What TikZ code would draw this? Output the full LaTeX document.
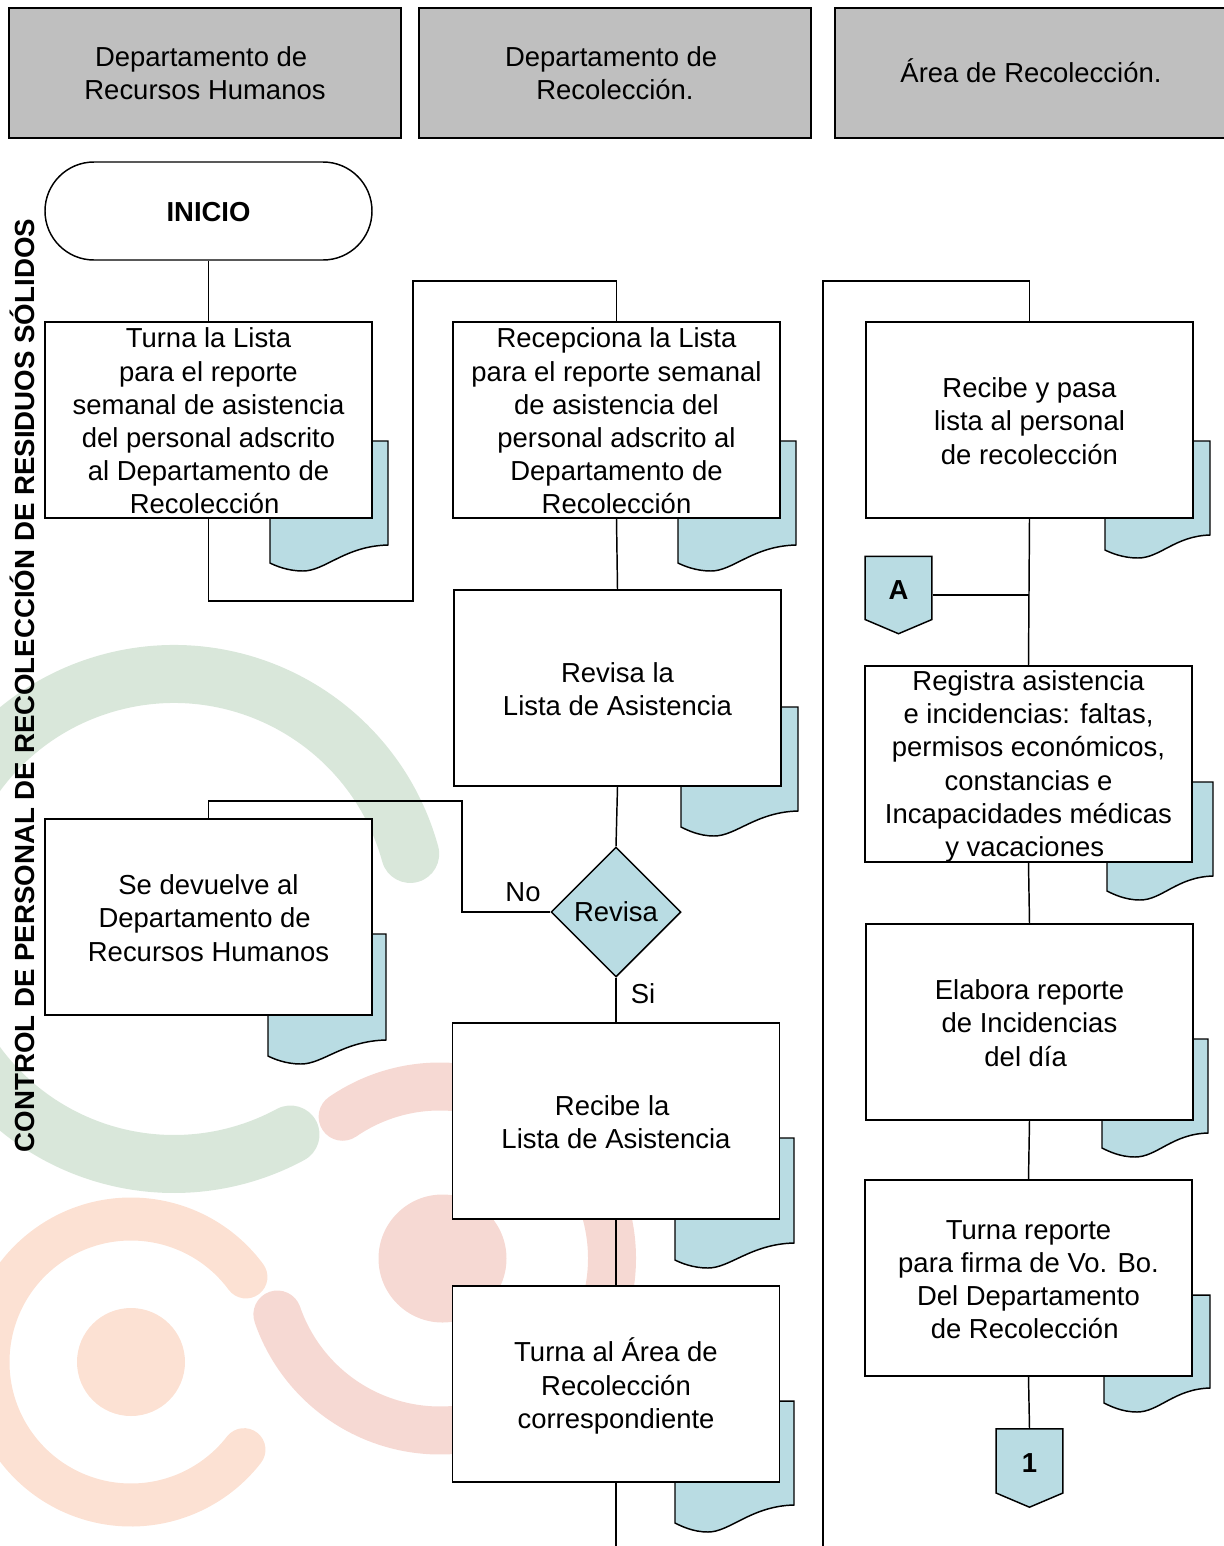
\documentclass[tikz,border=0pt]{standalone}
\usepackage{fontspec}
\setmainfont{Liberation Sans}
\usetikzlibrary{shapes.geometric,shapes.symbols}
\definecolor{DocClr}{HTML}{B9DCE3}
\definecolor{HeadClr}{HTML}{BFBFBF}
\definecolor{GreenClr}{HTML}{D9E7DA}
\definecolor{OrangeClr}{HTML}{FCE1D3}
\definecolor{PinkClr}{HTML}{F6D9D3}
\newcommand{\esp}{\hbox{\ }}
\newcommand{\alto}[1]{\rule{0pt}{#1}}
\newcommand{\fuente}{\fontsize{20.6}{24.9}\selectfont}
\newcommand{\docu}[7]{% right, top, left, right bottom, left bottom, low point
  \draw[linea,fill=DocClr] (#1,#2) -- (#3,#2) -- (#3,#5)
    .. controls (#3+6,#5+3) and (#3+18,#6) .. (#3+33,#6)
    .. controls (#3+55,#6) and (#7,#4+1) .. (#1,#4) -- cycle;}
\tikzset{
  linea/.style={line width=1.1pt,black},
  texto/.style={font=\fuente,align=center,inner sep=0pt},
  caja/.style={texto,linea,draw,fill=white,minimum width=245.25pt,minimum height=147pt},
  cabeza/.style={texto,linea,draw,fill=HeadClr,minimum width=294pt,minimum height=97.5pt},
  rombo/.style={texto,linea,draw,fill=DocClr,diamond,aspect=1,minimum width=97.5pt,minimum height=97.5pt},
  conector/.style={texto,linea,draw,fill=DocClr,font=\fuente\bfseries,
    signal,signal to=south,signal from=nowhere,signal pointer angle=134,
    minimum width=50pt,minimum height=50.5pt},
  marca/.style={line width=#1,line cap=round},
}
\begin{document}
\begin{tikzpicture}[x=.75pt,y=-.75pt]
\useasboundingbox (0,0) rectangle (1224,1546);

% fondo
\begin{scope}
\clip (0,0) rectangle (1224,1526);
\draw[marca=43.5pt,GreenClr] (174,919) ++(-15.4:245) arc[start angle=-15.4,end angle=-298.4,radius=245];
\draw[marca=32.25pt,OrangeClr] (131,1362) ++(-36.5:143) arc[start angle=-36.5,end angle=-322.2,radius=143];
\fill[OrangeClr] (131,1362) circle[radius=54];
\draw[marca=36pt,PinkClr] (440,1258.5) ++(-124.5:172) arc[start angle=-124.5,end angle=161,radius=172];
\fill[PinkClr] (442.5,1258.5) circle[radius=64];
\end{scope}

% encabezados
\node[cabeza] (H1) at (205,73) {Departamento de\esp\\Recursos Humanos};
\node[cabeza] (H2) at (615,73) {Departamento de\esp\\Recolección.};
\node[cabeza] (H3) at (1031,73) {Área de Recolección.\rule[-3pt]{0pt}{1pt}};

\node[texto,rotate=90,font=\fontsize{20.75}{24.9}\selectfont\bfseries] (T) at (22,685.5)
  {CONTROL DE PERSONAL DE RECOLECCIÓN DE RESIDUOS SÓLIDOS};

% documentos
\docu{388}{441}{270}{545}{563}{571}{345}
\docu{796}{441}{678}{545}{563}{571}{753}
\docu{1210}{441}{1105}{535}{550}{558}{1175}
\docu{798}{707}{681}{811}{827}{836}{756}
\docu{386}{934}{268}{1040}{1056}{1064}{343}
\docu{1213}{782}{1107}{876}{891}{900}{1177}
\docu{1208}{1039}{1102}{1133}{1148}{1157}{1172}
\docu{1210}{1295}{1104}{1388}{1403}{1412}{1174}
\docu{794}{1138}{675}{1243}{1260}{1268}{751}
\docu{794}{1401}{675}{1505}{1523}{1532}{751}

% columna 1
\node[caja,minimum height=73.5pt,rounded corners=36.75pt,font=\fuente\bfseries] (INICIO) at (208.5,211) {\alto{16.5pt}INICIO};
\node[caja] (B1) at (208.5,420) {\alto{16.5pt}Turna la Lista\\para el reporte\\semanal de asistencia\\del personal adscrito\\al Departamento de\\Recolección\esp};
\node[caja] (DEV) at (208.5,917) {\alto{16.5pt}Se devuelve al\\Departamento de\esp\\Recursos Humanos};

% columna 2
\node[caja] (B2) at (616.5,420) {\alto{16.5pt}Recepciona la Lista\\para el reporte semanal\\de asistencia del\\personal adscrito al\\Departamento de\\Recolección};
\node[caja] (REV) at (617.5,688) {\alto{16.5pt}Revisa la\\Lista de Asistencia};
\node[rombo] (DEC) at (616,912) {Revisa};
\node[caja] (REC) at (616,1121) {\alto{16.5pt}Recibe la\esp\\Lista de Asistencia};
\node[caja] (TUR) at (616,1384) {\alto{21pt}Turna al Área de\\Recolección\\correspondiente};

% columna 3
\node[caja] (B3) at (1029.5,420) {\alto{16.5pt}Recibe y pasa\\lista al personal\\de recolección};
\node[caja] (REG) at (1028.5,764) {\alto{18.5pt}Registra asistencia\\e incidencias: faltas,\\permisos económicos,\\constancias e\\Incapacidades médicas\\y vacaciones\esp};
\node[caja] (ELA) at (1029.5,1022) {\alto{16.5pt}Elabora reporte\\de Incidencias\\del día\esp};
\node[caja] (FIR) at (1028.5,1278) {\alto{16.5pt}Turna reporte\\para firma de Vo. Bo.\\Del Departamento\\de Recolección\esp};
\node[conector] (A) at (898.5,588) {\alto{17.2pt}A};
\node[conector] (UNO) at (1029.5,1461) {\alto{17.2pt}1};

\coordinate (c1) at (413,601);
\coordinate (c2) at (413,281);
\coordinate (c3) at (616.5,281);
\coordinate (c4) at (462,912);
\coordinate (c5) at (462,801);
\coordinate (c6) at (208.5,801);
\coordinate (c7) at (616,1546);
\coordinate (c8) at (823,1546);
\coordinate (c9) at (823,281);
\coordinate (c10) at (1029.5,281);
\coordinate (c11) at (1029,595);

\draw[linea] (INICIO) -- (B1);
\draw[linea] (B1.south) |- (c1) -- (c2) -- (c3) -- (B2.north);
\draw[linea] (B2.south) -- (REV.north);
\draw[linea] (REV.south) -- (DEC.north);
\draw[linea] (DEC.west) -- (c4) -- (c5) -- (c6) -- (DEV.north);
\draw[linea] (DEC.south) -- (REC.north);
\draw[linea] (REC.south) -- (TUR.north);
\draw[linea] (TUR.south) -- (c7);
\draw[linea] (c8) -- (c9) -- (c10) -- (B3.north);
\draw[linea] (B3.south) -- (REG.north);
\draw[linea] (A.east |- c11) -- (c11);
\draw[linea] (REG.south) -- (ELA.north);
\draw[linea] (ELA.south) -- (FIR.north);
\draw[linea] (FIR.south) -- (UNO.north);

\node[texto] (NO) at (523,892) {No};
\node[texto] (SI) at (643,994) {Si};
\end{tikzpicture}
\end{document}
